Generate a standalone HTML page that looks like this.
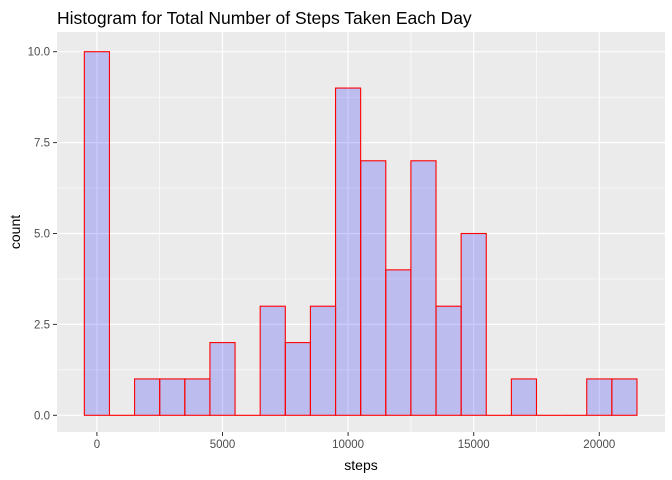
<!DOCTYPE html>
<html><head><meta charset="utf-8"><style>
body{margin:0;background:#fff;}
svg{display:block;font-family:"Liberation Sans",sans-serif;}
</style></head><body>
<svg width="672" height="480">
<text x="57" y="24" font-size="17.5" fill="#000">Histogram for Total Number of Steps Taken Each Day</text>
<rect x="57" y="32" width="608" height="400" fill="#EBEBEB"/>
<g id="grid"></g><g id="bars"></g><g id="axes"></g>
<text x="361" y="470" font-size="14" text-anchor="middle">steps</text>
<text transform="translate(20,232) rotate(-90)" font-size="14" text-anchor="middle">count</text>
</svg>
<script>
const binCenters=[0,1000,2000,3000,4000,5000,6000,7000,8000,9000,10000,11000,12000,13000,14000,15000,16000,17000,18000,19000,20000,21000];
const counts=[10,0,1,1,1,2,0,3,2,3,9,7,4,7,3,5,0,1,0,0,1,1];
const xTicks=[0,5000,10000,15000,20000];
const xMinor=[2500,7500,12500,17500];
const yTicks=[0,2.5,5,7.5,10];
const yTickLabels=["0.0","2.5","5.0","7.5","10.0"];
const binWidth=1000;
const NS="http://www.w3.org/2000/svg";
const xs=v=>96.9+v*0.02512;
const ys=v=>415.3-v*36.36;
const L=57,R=665,T=32,B=432;
function mk(t,a,p){const e=document.createElementNS(NS,t);for(const k in a)e.setAttribute(k,a[k]);p.appendChild(e);return e;}
const grid=document.getElementById('grid'),bars=document.getElementById('bars'),axes=document.getElementById('axes');
yTicks.forEach((v,i)=>{
 if(i<yTicks.length-1){const m=mk('line',{x1:L,x2:R,y1:ys(v+1.25),y2:ys(v+1.25),stroke:'#fff','stroke-width':0.6},grid);
 }
 const g=mk('line',{x1:L,x2:R,y1:ys(v),y2:ys(v),stroke:'#fff','stroke-width':1.2},grid);
 
 const t=mk('line',{x1:L-4,x2:L,y1:ys(v),y2:ys(v),stroke:'#333','stroke-width':1},axes);
 
 const tx=mk('text',{x:L-7,y:ys(v)+4,'font-size':11.5,fill:'#4D4D4D','text-anchor':'end'},axes);tx.textContent=yTickLabels[i];
 
});
xMinor.forEach(v=>{const m=mk('line',{x1:xs(v),x2:xs(v),y1:T,y2:B,stroke:'#fff','stroke-width':0.6},grid);
 });
xTicks.forEach(v=>{
 const g=mk('line',{x1:xs(v),x2:xs(v),y1:T,y2:B,stroke:'#fff','stroke-width':1.2},grid);
 
 const t=mk('line',{x1:xs(v),x2:xs(v),y1:B,y2:B+4,stroke:'#333','stroke-width':1},axes);
 
 const tx=mk('text',{x:xs(v),y:B+16,'font-size':11.5,fill:'#4D4D4D','text-anchor':'middle'},axes);tx.textContent=String(v);
 
});
binCenters.forEach((c,i)=>{
 const x0=xs(c-binWidth/2),x1=xs(c+binWidth/2),y0=ys(counts[i]),y1=ys(0);
 if(counts[i]>0){
  const r=mk('rect',{x:x0,y:y0,width:x1-x0,height:y1-y0,fill:'rgba(0,0,255,0.2)',stroke:'#FF0000','stroke-width':1.1},bars);
  
 } else {
  const z=mk('line',{x1:x0,x2:x1,y1:y1,y2:y1,stroke:'#FF0000','stroke-width':1.1},bars);
  
 }
});
</script>
</body></html>
